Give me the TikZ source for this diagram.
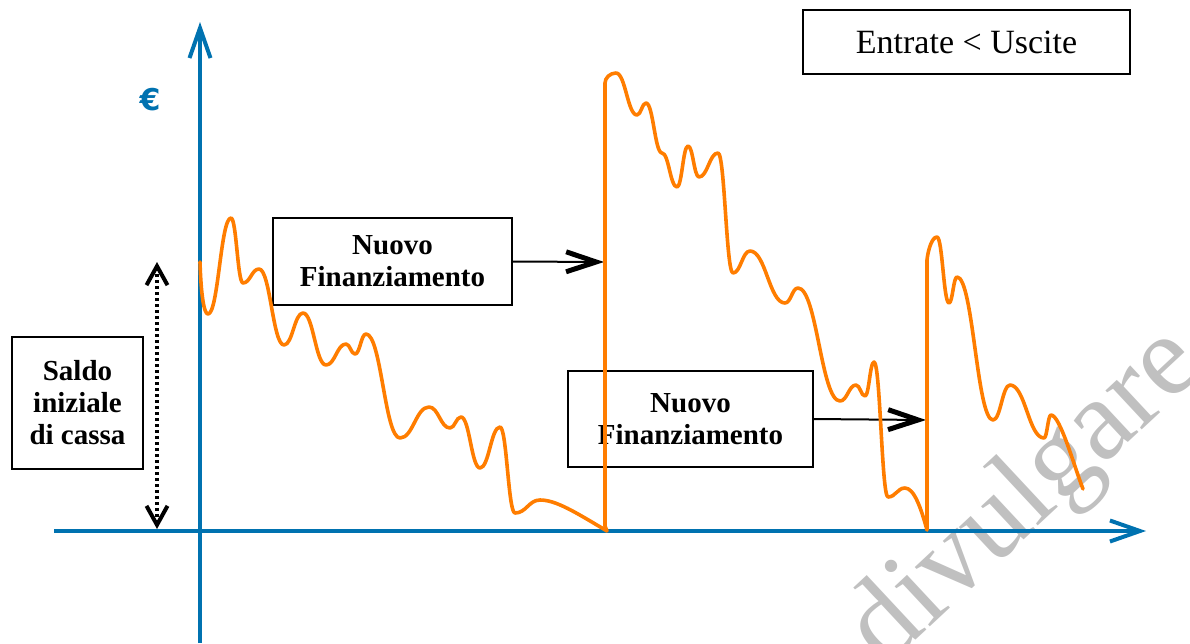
\documentclass[tikz,border=0pt]{standalone}
\usepackage{fontspec}
\setmainfont{Liberation Serif}
\newfontfamily\eurofont{DejaVu Sans}
\usetikzlibrary{arrows.meta}
\definecolor{axisblue}{RGB}{0,114,176}
\definecolor{curveorange}{RGB}{255,125,0}
\definecolor{wmgray}{RGB}{192,192,192}
\tikzset{
  axisline/.style={draw=axisblue, line width=3.2pt, -{Straight Barb[length=30pt,width=21pt,line width=4pt]}},
  curve/.style={draw=curveorange, line width=3.6pt, line join=round, line cap=round},
  textbox/.style={draw=black, line width=1.8pt, fill=white, align=center, inner sep=0pt,
    font=\fontsize{29}{32}\selectfont\bfseries},
  blackarrow/.style={draw=black, line width=2pt, -{Straight Barb[length=30pt,width=20pt,line width=5pt]}},
  dotarrow/.style={draw=black, line width=3.5pt, dash pattern=on 3pt off 3pt,
    {Straight Barb[length=19pt,width=21pt,line width=4pt]}-{Straight Barb[length=19pt,width=21pt,line width=4pt]}}
}
\begin{document}
\begin{tikzpicture}[x=1pt,y=-1pt]
\useasboundingbox (0,0) rectangle (1190,643);
% watermark
\node[rotate=43, anchor=base, text=wmgray, inner sep=0pt,
  font=\fontsize{116}{116}\selectfont] (wm) at (1046,519) {divulgare};
% axes
\coordinate (yb) at (200,643);
\coordinate (yt) at (200,22);
\coordinate (xl) at (54,531);
\coordinate (xr) at (1146,531);
\draw[axisline] (yb) -- (yt);
\draw[axisline] (xl) -- (xr);
\node[text=axisblue, font=\fontsize{30}{30}\selectfont\eurofont\bfseries] (euro) at (150,100) {€};
% boxes
\node[textbox, minimum width=327pt, minimum height=64pt, font=\fontsize{34}{38}\selectfont]
  (eu) at (966.5,42) {Entrate < Uscite};
\node[textbox, minimum width=239pt, minimum height=87pt] (b1) at (392.5,261.5) {Nuovo\\Finanziamento};
\node[textbox, minimum width=245pt, minimum height=96pt] (b2) at (690.5,419) {Nuovo\\Finanziamento};
\node[textbox, minimum width=131pt, minimum height=132pt] (sa) at (77.5,403) {Saldo\\iniziale\\di cassa};
% arrows
\coordinate (j1) at (604,262);
\coordinate (j2) at (926,420);
\draw[blackarrow] (b1.east) -- (j1);
\draw[blackarrow] (b2.east) -- (j2);
\coordinate (d1) at (157,262);
\coordinate (d2) at (157,529);
\draw[dotarrow] (d1) -- (d2);
% curve
\draw[curve] (200,262) .. controls (201,295) and (204,314) .. (208,314)
  foreach \x/\y [remember=\x as \px (initially 208), remember=\y as \py (initially 314)] in
  {231/218,243/283,259/269,284/345,303/313,326/365,346/344,355/354,366/334,400/438,429/407,
   450/428,461/417,480/468,500/427,515/513,540/500}
  { .. controls ({\px+0.45*(\x-\px)},\py) and ({\x-0.45*(\x-\px)},\y) .. (\x,\y) }
  .. controls (556,500) and (575,512) .. (607,531) -- (605,526) -- (605,83)
  .. controls (605,78) and (610,73) .. (616,73)
  foreach \x/\y [remember=\x as \px (initially 616), remember=\y as \py (initially 73)] in
  {637/115,646/103,662/153,677/187,688/146,699/177,718/153,733/273,750/251,785/303,798/288,
   840/401,856/385,865/396,874/362,888/497,905/488}
  { .. controls ({\px+0.45*(\x-\px)},\py) and ({\x-0.45*(\x-\px)},\y) .. (\x,\y) }
  .. controls (914,488) and (921,508) .. (927,530) -- (927,260)
  .. controls (928,250) and (932,237) .. (937,237)
  foreach \x/\y [remember=\x as \px (initially 937), remember=\y as \py (initially 237)] in
  {949/303,957/277,993/420,1010/385,1044/438,1051/415}
  { .. controls ({\px+0.45*(\x-\px)},\py) and ({\x-0.45*(\x-\px)},\y) .. (\x,\y) }
  .. controls (1060,415) and (1074,466) .. (1083,489);
\end{tikzpicture}
\end{document}
